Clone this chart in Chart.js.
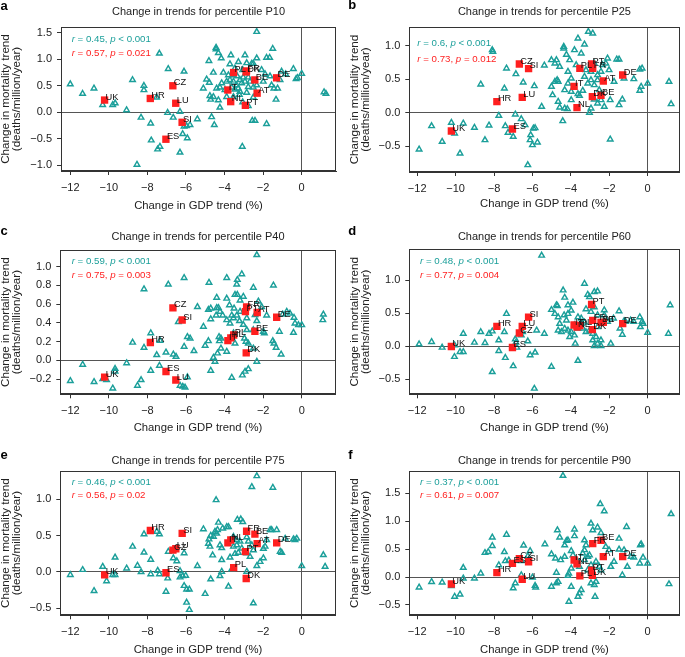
<!DOCTYPE html>
<html>
<head>
<meta charset="utf-8">
<script src="https://cdn.jsdelivr.net/npm/chart.js@4"></script>
<style>
  html, body { margin: 0; padding: 0; background: #fff; }
  #wrap { position: relative; width: 685px; height: 657px; overflow: hidden; }
  #wrap canvas { position: absolute; }
</style>
</head>
<body>
<div id="wrap"></div>
<script>
/* ── Data ── */
const COUNTRIES   = ["UK", "HR", "CZ", "LU", "SI", "ES", "IT", "NL", "PL", "FR", "DK", "PT", "BE", "AT", "DE"];
const COUNTRY_GDP = [-10.22, -7.85, -6.68, -6.53, -6.2, -7.04, -3.83, -3.68, -3.53, -2.86, -2.88, -2.92, -2.43, -2.31, -1.3];

const COUNTRY_P10 = [0.23, 0.26, 0.50, 0.17, -0.19, -0.51, 0.42, 0.20, 0.75, 0.78, 0.76, 0.13, 0.61, 0.36, 0.65];
const COUNTRY_P25 = [-0.275, 0.165, 0.73, 0.23, 0.66, -0.245, 0.395, 0.075, 0.665, 0.665, 0.24, 0.73, 0.26, 0.475, 0.565];
const COUNTRY_P40 = [-0.18, 0.19, 0.56, -0.21, 0.43, -0.12, 0.21, 0.24, 0.27, 0.57, 0.08, 0.52, 0.31, 0.51, 0.46];
const COUNTRY_P60 = [-0.005, 0.30, 0.20, 0.30, 0.44, -0.02, 0.32, 0.29, 0.31, 0.39, 0.25, 0.63, 0.36, 0.36, 0.34];
const COUNTRY_P75 = [-0.04, 0.57, 0.30, 0.32, 0.53, -0.01, 0.40, 0.44, 0.06, 0.56, -0.09, 0.28, 0.52, 0.39, 0.40];
const COUNTRY_P90 = [-0.125, 0.08, 0.33, -0.04, 0.275, 0.245, 0.305, 0.235, 0.02, 0.60, 0.03, 0.125, 0.66, 0.365, 0.365];

const REGIONS_P10 = [
  [-12.0,0.53],[-11.36,0.35],[-10.77,0.45],[-10.32,0.14],[-9.8,0.14],[-9.67,0.17],[-9.08,0.04],[-8.77,0.61],
  [-8.33,-0.10],[-8.18,0.50],[-8.18,0.42],[-7.83,-0.21],[-7.80,-0.53],[-7.52,0.28],[-7.38,1.11],[-7.47,-0.70],
  [-7.35,-0.65],[-8.54,-0.99],[-6.92,0.82],[-6.95,-0.01],[-6.66,-0.10],[-6.31,0.01],[-6.10,0.77],[-6.17,-0.41],
  [-6.31,-0.76],[-5.93,-0.49],[-6.10,-0.27],[-5.97,-0.26],[-5.79,-0.24],[-5.41,-0.13],[-4.67,-0.09],[-4.53,-0.24],
  [-3.08,-0.65],[-2.56,-0.16],[-2.42,-0.16],[-1.82,-0.22],[-1.33,0.24],[-1.25,0.45],[1.16,0.38],[1.26,0.35],
  [0,0.73],[-0.43,0.82],[-0.29,0.63],[-0.22,0.65],[-2.33,1.52],[-1.50,1.20],[-1.82,1.03],[-1.66,1.03],
  [-4.44,1.22],[-4.44,1.19],[-4.32,1.12],[-4.81,0.97],[-4.17,1.02],[-3.67,1.08],[-2.94,1.08],[-3.28,0.95],
  [-2.85,0.93],[-2.59,0.92],[-2.33,1.02],[-4.58,0.75],[-4.06,0.75],[-3.80,0.70],[-3.72,0.61],[-4.93,0.62],
  [-4.79,0.56],[-5.10,0.45],[-4.24,0.47],[-4.15,0.55],[-4.32,0.23],[-4.24,0.09],[-4.76,0.31],[-4.72,0.24],
  [-3.20,0.61],[-3.37,0.51],[-3.29,0.45],[-3.11,0.55],[-2.94,0.58],[-3.03,0.66],[-2.77,0.48],[-2.68,0.58],
  [-2.51,0.47],[-2.85,0.37],[-3.20,0.39],[-3.46,0.43],[-3.63,0.47],[-3.89,0.58],[-3.54,0.58],[-3.34,0.68],
  [-3.46,0.83],[-3.06,0.80],[-2.51,0.92],[-2.08,0.80],[-1.99,0.58],[-1.90,0.72],[-1.56,0.51],[-1.44,0.45],
  [-1.04,0.77],[-0.83,0.72],[-1.12,0.61],[-1.64,0.68],[-3.54,0.29],[-3.23,0.33],[-2.51,0.28],[-3.06,0.19],
  [-2.77,0.12],[-3.72,0.91],[-3.54,0.70],[-3.98,0.42],[-4.41,0.45],[-4.58,0.29],[-3.89,0.29],[-2.33,0.51],
  [-2.77,0.66]
];

const REGIONS_P25 = [
  [-11.90,-0.55],[-11.25,-0.20],[-10.70,-0.435],[-10.22,-0.15],[-10.05,-0.31],[-9.60,-0.16],[-9.77,-0.61],[-9.02,-0.225],
  [-8.69,0.425],[-8.47,-0.41],[-8.26,-0.19],[-8.09,0.94],[-8.06,0.915],[-7.75,-0.045],[-7.46,0.365],[-7.35,0.665],
  [-7.41,-0.20],[-7.27,-0.30],[-7.0,-0.36],[-6.89,-0.025],[-6.86,0.58],[-6.58,-0.095],[-6.48,0.455],[-6.38,-0.185],
  [-6.24,-0.785],[-6.09,-0.335],[-6.0,-0.485],[-5.86,-0.23],[-5.90,0.40],[-5.74,-0.445],[-5.95,-0.235],[-6.12,-0.41],
  [-5.38,0.71],[-5.52,0.09],[-5.01,0.39],[-4.95,0.265],[-4.75,0.79],[-4.71,0.49],[-4.66,0.165],[-4.58,0.08],
  [-4.42,-0.125],[-4.37,0.99],[-4.37,0.965],[-4.23,0.87],[-4.32,0.065],[-4.18,0.055],[-3.81,0.94],[-3.63,1.115],
  [-3.29,1.025],[-3.09,1.215],[-2.86,1.19],[-4.06,0.79],[-3.72,0.715],[-3.98,0.515],[-4.15,0.615],[-4.58,0.69],
  [-4.83,0.465],[-3.63,0.28],[-3.55,0.255],[-3.98,0.315],[-3.38,0.33],[-3.29,0.54],[-3.12,0.44],[-2.95,0.49],
  [-2.78,0.415],[-2.61,0.49],[-3.21,0.64],[-2.95,0.615],[-2.43,0.615],[-2.78,0.20],[-2.61,0.14],[-2.26,0.09],
  [-2.95,0.065],[-3.03,0.0],[-2.35,0.715],[-2.09,0.815],[-2.01,0.64],[-1.95,-0.40],[-1.95,0.19],[-1.61,0.80],
  [-1.49,0.80],[-1.75,0.465],[-1.49,0.115],[-1.32,0.20],[-1.23,0.515],[-0.72,0.505],[-0.41,0.65],[-0.29,0.665],
  [-0.34,0.39],[-0.41,0.33],[0,0.44],[1.11,0.465],[1.22,0.13],[-3.98,0.19],[-4.32,0.34],[-4.15,0.44],
  [-2.78,0.74],[-2.61,0.565],[-5.01,0.79],[-4.83,0.74],[-4.66,0.465],[-3.46,0.89],[-2.52,0.34],[-2.43,0.19],
  [-2.18,0.74]
];

const REGIONS_P40 = [
  [-12.0,-0.22],[-11.36,-0.046],[-10.77,-0.23],[-10.32,-0.20],[-10.12,-0.21],[-9.80,-0.30],[-9.68,-0.09],[-9.68,-0.12],
  [-9.08,-0.03],[-8.77,0.19],[-8.33,-0.21],[-8.52,-0.27],[-8.18,0.76],[-8.18,0.135],[-7.83,0.29],[-7.83,-0.11],
  [-7.35,0.21],[-7.52,0.057],[-7.38,-0.057],[-7.04,0.085],[-6.92,0.81],[-6.66,0.064],[-6.52,0.04],[-6.31,-0.27],
  [-6.17,-0.28],[-6.05,-0.29],[-6.40,0.41],[-6.10,0.88],[-6.10,0.146],[-5.93,0.25],[-5.79,0.235],[-5.93,-0.18],
  [-5.59,0.10],[-5.41,0.57],[-5.10,0.36],[-5.01,0.157],[-4.81,0.83],[-4.84,0.54],[-4.72,0.555],[-4.84,0.206],
  [-4.72,0.44],[-4.72,-0.11],[-4.58,0.028],[-4.50,-0.014],[-4.41,0.67],[-4.41,0.56],[-4.32,0.56],[-4.24,0.52],
  [-4.10,0.48],[-4.44,0.48],[-4.37,0.075],[-4.29,0.25],[-4.19,0.235],[-4.27,0.206],[-4.19,0.128],[-3.89,0.88],
  [-3.89,0.66],[-3.75,0.59],[-3.63,0.48],[-3.54,0.45],[-3.72,0.395],[-3.89,0.43],[-3.37,0.81],[-3.11,0.92],
  [-3.34,0.86],[-3.46,0.70],[-3.34,0.70],[-3.20,0.64],[-3.03,0.68],[-3.51,0.555],[-3.20,0.52],[-3.37,0.48],
  [-3.23,0.42],[-3.03,0.38],[-2.85,0.45],[-3.46,0.18],[-2.97,0.235],[-2.89,0.20],[-2.77,0.18],[-3.08,-0.16],
  [-2.94,-0.12],[-2.77,-0.093],[-3.63,-0.185],[-2.51,0.776],[-2.33,1.125],[-2.33,-0.014],[-2.33,0.42],[-2.25,0.63],
  [-2.08,0.57],[-1.82,0.48],[-1.99,0.306],[-1.94,0.29],[-1.47,0.80],[-1.50,0.206],[-1.44,0.18],[-1.33,0.135],
  [-1.07,0.064],[-1.16,0.306],[-0.99,0.49],[-0.78,0.52],[-0.61,0.50],[-0.40,0.455],[-0.35,0.395],[-0.43,0.295],
  [-0.17,0.377],[0,0.377],[1.12,0.49],[1.09,0.43],[-2.85,0.324],[-2.51,0.324],[-2.42,0.484],[-2.51,0.128],
  [-3.89,0.093],[-3.54,0.29]
];

const REGIONS_P60 = [
  [-11.90,0.03],[-11.25,0.065],[-10.70,-0.02],[-10.05,0.015],[-10.06,-0.16],[-9.77,-0.085],[-9.60,-0.085],[-9.60,0.19],
  [-9.02,0.055],[-8.69,0.215],[-8.47,0.05],[-8.26,0.19],[-8.09,0.225],[-8.09,-0.39],[-7.75,0.09],[-7.46,0.215],
  [-7.35,0.49],[-7.75,-0.07],[-7.41,-0.175],[-7.0,-0.30],[-6.89,0.105],[-6.86,0.055],[-6.81,-0.02],[-6.58,0.165],
  [-6.51,0.215],[-6.24,0.075],[-6.12,-0.135],[-5.86,-0.095],[-5.90,-0.64],[-5.78,0.24],[-5.52,1.37],[-5.38,0.19],
  [-5.01,0.55],[-5.01,-0.31],[-4.83,0.49],[-4.75,0.62],[-4.70,0.61],[-4.66,0.44],[-4.58,0.34],[-4.66,0.24],
  [-4.40,0.845],[-4.32,0.735],[-4.35,0.47],[-4.23,0.39],[-4.15,0.62],[-3.98,0.54],[-3.89,0.66],[-4.15,0.24],
  [-3.98,0.215],[-3.81,0.165],[-4.06,0.14],[-3.77,0.04],[-3.63,-0.22],[-3.63,0.44],[-3.46,0.42],[-3.29,0.36],
  [-3.46,0.34],[-3.29,0.945],[-3.12,0.78],[-3.03,0.745],[-2.78,0.82],[-2.61,0.83],[-3.21,0.56],[-2.95,0.52],
  [-2.78,0.59],[-2.61,0.47],[-3.03,0.24],[-2.86,0.19],[-2.69,0.14],[-2.61,0.04],[-2.86,0.09],[-2.43,0.09],
  [-2.78,0.005],[-2.43,0.005],[-2.26,0.545],[-2.26,0.47],[-2.09,0.37],[-1.92,0.04],[-1.78,0.42],[-1.49,0.53],
  [-1.44,0.27],[-1.32,0.175],[-1.23,0.38],[-1.15,0.37],[-0.89,0.39],[-0.72,0.37],[-0.41,0.44],[-0.29,0.37],
  [-0.38,0.29],[-0.24,0.34],[0,0.205],[1.17,0.62],[1.08,0.19],[-3.81,0.32],[-3.63,0.27],[-3.38,0.27],
  [-3.21,0.215],[-2.61,0.29],[-4.49,0.215],[-4.32,0.265],[-4.15,0.49]
];

const REGIONS_P75 = [
  [-12.0,-0.04],[-11.36,0.03],[-10.77,-0.26],[-10.32,0.073],[-10.12,-0.125],[-9.80,-0.04],[-9.68,-0.04],[-9.68,0.20],
  [-9.08,0.05],[-8.77,0.35],[-8.52,0.087],[-8.33,0],[-8.18,0.52],[-8.18,0.27],[-7.83,0.17],[-7.83,-0.03],
  [-7.52,0.555],[-7.38,0.52],[-7.47,0.018],[-7.38,-0.03],[-7.04,-0.27],[-6.95,-0.087],[-6.92,0.28],[-6.66,0.19],
  [-6.48,0.15],[-6.31,-0.073],[-6.17,-0.055],[-6.31,0.014],[-6.10,-0.19],[-5.97,-0.24],[-5.83,-0.24],[-5.97,-0.42],
  [-5.83,-0.52],[-6.10,0.26],[-6.02,-0.05],[-5.41,0.083],[-5.10,0.59],[-5.01,-0.30],[-4.81,0.45],[-4.72,0.50],
  [-4.84,0.39],[-4.76,0.35],[-4.72,-0.10],[-4.62,0.23],[-4.44,0.99],[-4.50,0.555],[-4.37,0.58],[-4.32,0.68],
  [-4.24,0.37],[-4.15,0.33],[-4.24,-0.055],[-4.15,0.005],[-4.15,0.165],[-4.10,0.60],[-3.89,0.62],[-3.80,-0.20],
  [-3.80,0.62],[-3.72,0.20],[-3.63,0.04],[-3.34,0.72],[-3.16,0.725],[-3.06,0.69],[-3.54,0.485],[-3.37,0.44],
  [-3.20,0.42],[-3.54,0.35],[-3.37,0.37],[-3.11,0.325],[-3.46,0.25],[-3.29,0.266],[-2.85,0.48],[-2.77,0.42],
  [-2.59,0.37],[-2.59,1.17],[-2.33,1.32],[-2.85,0.005],[-2.51,-0.43],[-2.33,0.083],[-2.16,0.14],[-1.99,0.19],
  [-1.99,0.32],[-1.90,0.35],[-1.82,0.44],[-1.64,0.58],[-1.50,1.16],[-1.56,0.58],[-1.30,0.58],[-1.12,0.28],
  [-1.04,0.266],[-0.86,0.46],[-0.43,0.45],[-0.26,0.46],[-0.35,0.44],[0,0.083],[1.12,0.234],[1.21,0.073],
  [-4.41,0.53],[-4.58,0.486],[-2.85,0.257],[-2.68,0.21],[-2.51,0.30]
];

const REGIONS_P90 = [
  [-11.90,-0.185],[-11.25,-0.085],[-10.70,-0.095],[-10.22,-0.16],[-10.05,-0.35],[-9.77,-0.31],[-9.60,0.167],[-9.60,-0.024],
  [-9.02,-0.024],[-8.69,0.066],[-8.47,0.435],[-8.30,0.45],[-8.09,0.71],[-8.09,0.56],[-7.75,0.215],[-7.46,0.45],
  [-7.35,0.76],[-7.41,0.287],[-7.23,0.30],[-7.0,-0.20],[-6.89,-0.11],[-6.58,0.287],[-6.46,0.567],[-6.58,0.036],
  [-6.24,0.376],[-6.12,0.47],[-5.86,-0.155],[-5.83,-0.185],[-6.0,-0.006],[-5.35,0.59],[-5.01,-0.17],[-5.01,0.41],
  [-4.75,-0.11],[-4.66,-0.084],[-4.80,0.334],[-4.75,0.078],[-4.70,0.84],[-4.58,0.71],[-4.41,1.815],[-4.32,0.57],
  [-4.15,0.66],[-4.23,0.65],[-4.53,0.305],[-4.32,0.364],[-4.11,0.066],[-4.15,0.024],[-3.98,-0.17],[-4.10,-0.44],
  [-3.81,0.855],[-3.81,0.735],[-3.98,0.47],[-3.89,0.394],[-3.63,-0.35],[-3.55,-0.29],[-3.46,-0.23],[-3.38,0.424],
  [-3.29,0.484],[-3.21,0.573],[-3.29,0.66],[-3.12,0.364],[-3.03,0.394],[-2.95,0.96],[-2.86,0.84],[-2.95,-0.11],
  [-2.78,-0.14],[-2.74,-0.35],[-2.69,-0.084],[-2.61,0.89],[-2.47,1.31],[-2.26,1.18],[-2.43,0.79],[-2.52,0.185],
  [-2.43,0.125],[-2.18,0.543],[-2.01,0.484],[-1.92,0.185],[-1.49,0.69],[-1.32,0.036],[-1.49,0.495],[-1.23,0.484],
  [-1.10,0.90],[-1.06,0.185],[-0.86,0.364],[-0.72,0.35],[-0.38,0.573],[-0.34,0.59],[-0.41,0.245],[-0.24,0.35],
  [0,0.245],[1.22,1.13],[1.11,-0.125],[-3.63,0.275],[-3.55,0.185],[-3.12,0.125],[-2.95,0.215],[-3.29,0.305],
  [-2.69,0.275],[-3.98,0.155],[-1.75,0.275]
];

const PERCENTILES = ["P10", "P25", "P40", "P60", "P75", "P90"];
const R_ALL       = ["0.45", "0.6", "0.59", "0.48", "0.46", "0.37"];
const R_COUNTRY   = ["0.57", "0.73", "0.75", "0.77", "0.56", "0.61"];
const P_COUNTRY   = ["0.021", "0.012", "0.003", "0.004", "0.02", "0.007"];
const Y_TICK_STEP = [0.5, 0.5, 0.2, 0.5, 0.5, 0.5];

/* ── Style ── */
const TEAL = "#1b9f9a";
const RED  = "#ff1f1f";
const INK  = "#222";
const FONT = '"Liberation Sans", Arial, Helvetica, sans-serif';
Chart.defaults.font.family = FONT;
Chart.defaults.color = INK;

/* ── Panel layout (page boxes, plot areas relative to the canvas) ── */
const PANELS = [
  { letter: "a", regions: REGIONS_P10, country: COUNTRY_P10, box: [0,   0,   342, 215], plot: [61,   27, 336,   171],   x: [-12.48, 1.78], y: [-1.11, 1.61],  titleY: 12,   xPad: 2.2, yPad: 0.5, note: [10.7, 12, 26.3],  mark: [0.5, 10] },
  { letter: "b", regions: REGIONS_P25, country: COUNTRY_P25, box: [342, 0,   343, 215], plot: [67.3, 27, 341,   172],   x: [-12.41, 1.66], y: [-0.89, 1.285], titleY: 12.3, xPad: 4.2, yPad: 7.7, note: [8,    16.3, 32],  mark: [6.3, 9] },
  { letter: "c", regions: REGIONS_P40, country: COUNTRY_P40, box: [0,   215, 342, 225], plot: [60.3, 35, 335.7, 179.3], x: [-12.52, 1.76], y: [-0.363, 1.178],titleY: 22.3, xPad: 5.2, yPad: 0.8, note: [11.4, 11.7, 25.7], mark: [0.5, 20] },
  { letter: "d", regions: REGIONS_P60, country: COUNTRY_P60, box: [342, 215, 343, 225], plot: [67.3, 34.3, 341, 179.3], x: [-12.41, 1.66], y: [-0.727, 1.464],titleY: 22.3, xPad: 5.2, yPad: 7.7, note: [10.7, 12.4, 26.4], mark: [6.3, 20] },
  { letter: "e", regions: REGIONS_P75, country: COUNTRY_P75, box: [0,   430, 342, 227], plot: [60.3, 41, 335.7, 185.3], x: [-12.52, 1.76], y: [-0.596, 1.389],titleY: 30.7, xPad: 0,   yPad: 0.8, note: [11.4, 11.7, 24.7], mark: [0.5, 28.5] },
  { letter: "f", regions: REGIONS_P90, country: COUNTRY_P90, box: [342, 430, 343, 227], plot: [67.3, 41, 341,   185.3], x: [-12.41, 1.66], y: [-0.685, 1.90], titleY: 30.7, xPad: 0,   yPad: 7.7, note: [10.7, 11.7, 24.7], mark: [6.3, 29] },
];

const minus = v => (v < -1e-9 ? "\u2212" : "");

/* ── Text helpers ── */
function drawRich(ctx, x, y, parts, color) {
  ctx.fillStyle = color;
  ctx.textBaseline = "middle";
  ctx.textAlign = "left";
  parts.forEach(([txt, italic]) => {
    ctx.font = `${italic ? "italic " : ""}9.7px ${FONT}`;
    ctx.fillText(txt, x, y);
    x += ctx.measureText(txt).width;
  });
}

function decoPlugin(p, i) {
  return {
    id: "deco",
    afterDatasetsDraw(chart) {
      const { ctx, scales } = chart;
      ctx.save();
      ctx.font = `9.3px ${FONT}`;
      ctx.fillStyle = "#111";
      ctx.textAlign = "left";
      ctx.textBaseline = "middle";
      COUNTRIES.forEach((c, k) => {
        const px = scales.x.getPixelForValue(COUNTRY_GDP[k]);
        const py = scales.y.getPixelForValue(p.country[k]);
        ctx.fillText(c, px + 1, py - 3);
      });
      ctx.restore();
    },
    afterDraw(chart) {
      const { ctx, chartArea: a } = chart;
      ctx.save();
      // frame
      ctx.strokeStyle = "#333";
      ctx.lineWidth = 1;
      const l = Math.round(a.left) + 0.5, t = Math.round(a.top) + 0.5;
      const r = Math.round(a.right) - 0.5, b = Math.round(a.bottom) - 0.5;
      ctx.strokeRect(l, t, r - l, b - t);
      // r / p notes
      const nx = a.left + p.note[0];
      drawRich(ctx, nx, a.top + p.note[1],
        [["r", true], [` = ${R_ALL[i]}, `, false], ["p", true], [" < 0.001", false]], TEAL);
      drawRich(ctx, nx, a.top + p.note[2],
        [["r", true], [` = ${R_COUNTRY[i]}, `, false], ["p", true], [` = ${P_COUNTRY[i]}`, false]], RED);
      // panel letter
      ctx.fillStyle = "#000";
      ctx.font = `bold 13px ${FONT}`;
      ctx.textAlign = "left";
      ctx.textBaseline = "alphabetic";
      ctx.fillText(p.letter, p.mark[0], p.mark[1]);
      ctx.restore();
    }
  };
}

/* ── Build charts ── */
const wrap = document.getElementById("wrap");

PANELS.forEach((p, i) => {
  const [left, top, W, H] = p.box;
  const cv = document.createElement("canvas");
  cv.width = W; cv.height = H;
  cv.style.left = left + "px"; cv.style.top = top + "px";
  cv.style.width = W + "px"; cv.style.height = H + "px";
  wrap.appendChild(cv);

  const zeroGrid = c => (c.tick && Math.abs(c.tick.value) < 1e-9 ? "#555" : "rgba(0,0,0,0)");
  const lineH = 13.2;

  new Chart(cv, {
    type: "scatter",
    data: {
      datasets: [
        {
          label: "Countries",
          order: 0,
          data: COUNTRY_GDP.map((x, k) => ({ x, y: p.country[k] })),
          pointStyle: "rect",
          pointRadius: 5.2,
          backgroundColor: RED,
          borderColor: RED,
          borderWidth: 0,
        },
        {
          label: "Regions",
          order: 1,
          data: p.regions.map(([x, y]) => ({ x, y })),
          pointStyle: "triangle",
          pointRadius: 3.2,
          backgroundColor: "rgba(255,255,255,0)",
          borderColor: TEAL,
          borderWidth: 1.45,
        }
      ]
    },
    options: {
      responsive: false,
      animation: false,
      devicePixelRatio: 1,
      events: [],
      layout: { padding: { left: 0, top: 0, bottom: 0, right: W - p.plot[2] } },
      plugins: {
        legend: { display: false },
        tooltip: { enabled: false },
        title: {
          display: true,
          fullSize: false,
          text: `Change in trends for percentile ${PERCENTILES[i]}`,
          color: INK,
          font: { size: 11, weight: "normal", lineHeight: 1.2 },
          padding: { top: p.titleY - lineH / 2, bottom: p.plot[1] - (p.titleY - lineH / 2) - lineH }
        }
      },
      scales: {
        x: {
          type: "linear",
          min: p.x[0], max: p.x[1],
          afterFit: s => { s.height = H - p.plot[3]; },
          border: { display: true, color: "#333", width: 1 },
          grid: { drawOnChartArea: true, color: zeroGrid, tickColor: "#333", tickLength: 4, lineWidth: 1 },
          ticks: {
            stepSize: 2, includeBounds: false, padding: 6, maxRotation: 0, color: INK,
            font: { size: 11 },
            callback: v => minus(v) + Math.abs(Math.round(v))
          },
          title: {
            display: true, text: "Change in GDP trend (%)", color: INK,
            font: { size: 11.3, lineHeight: 1.2 },
            padding: { top: 0, bottom: p.xPad }
          }
        },
        y: {
          type: "linear",
          min: p.y[0], max: p.y[1],
          afterFit: s => { s.width = p.plot[0]; },
          border: { display: true, color: "#333", width: 1 },
          grid: { drawOnChartArea: true, color: zeroGrid, tickColor: "#333", tickLength: 4, lineWidth: 1 },
          ticks: {
            stepSize: Y_TICK_STEP[i], includeBounds: false, padding: 5, color: INK,
            font: { size: 11 },
            callback: v => minus(v) + Math.abs(v).toFixed(1)
          },
          title: {
            display: true, text: ["Change in mortality trend", "(deaths/million/year)"], color: INK,
            font: { size: 11.6, lineHeight: 0.92 },
            padding: { top: p.yPad, bottom: 0 }
          }
        }
      }
    },
    plugins: [decoPlugin(p, i)]
  });
});
</script>
</body>
</html>
